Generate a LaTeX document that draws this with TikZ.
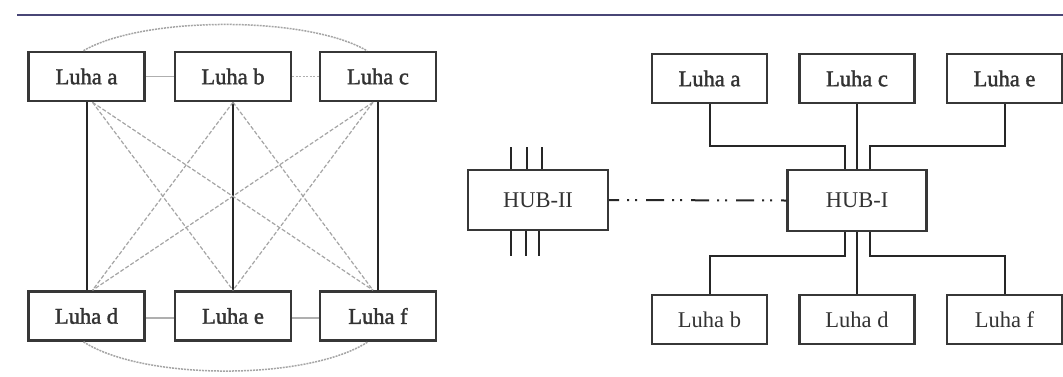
\documentclass[tikz,border=0pt]{standalone}
\usepackage{fontspec}
\setmainfont{Liberation Serif}
\newfontfamily\heavyfont[FakeBold=1.6]{Liberation Serif}
\definecolor{rule}{RGB}{72,70,118}
\definecolor{boxline}{RGB}{55,55,55}
\definecolor{lightl}{RGB}{175,175,175}
\definecolor{dashl}{RGB}{165,165,165}
\begin{document}
\begin{tikzpicture}[x=1pt,y=-1pt,
  lbox/.style={draw=boxline,line width=2.6pt,fill=white,minimum width=116pt,minimum height=49pt,inner sep=0pt,font=\heavyfont\fontsize{22.5pt}{26pt}\selectfont,text=black!80},
  rbox/.style={draw=boxline,line width=2.2pt,fill=white,minimum width=115pt,minimum height=49pt,inner sep=0pt,font=\fontsize{22.5pt}{26pt}\selectfont,text=black!80},
  rtbox/.style={rbox,font=\heavyfont\fontsize{22.5pt}{26pt}\selectfont},
  hbox/.style={draw=boxline,line width=2.2pt,fill=white,minimum width=139pt,minimum height=61pt,inner sep=0pt,font=\fontsize{22.5pt}{26pt}\selectfont,text=black!80},
  solidc/.style={draw=black!85,line width=2pt},
  graysolid/.style={draw=lightl,line width=1.2pt},
  graydot/.style={draw=lightl,line width=1.4pt,dash pattern=on 2pt off 1.5pt},
  diag/.style={draw=dashl,line width=1.2pt,dash pattern=on 4pt off 2pt},
  arcline/.style={draw=dashl,line width=1.5pt,dash pattern=on 2pt off 1pt},
  rline/.style={draw=black!85,line width=2pt},
  stub/.style={draw=black!85,line width=2.2pt},
  dashdot/.style={draw=black!85,line width=2pt,dash pattern=on 18pt off 8pt on 2pt off 6pt on 2pt off 9pt,dash phase=8pt}
]
\useasboundingbox (0,0) rectangle (1063,376);
\fill[white] (0,0) rectangle (1063,376);
% top rule
\draw[rule,line width=2.5pt] (17,15) -- (1063,15);

% ---------- left: full mesh ----------
\node[lbox] (a) at (86.5,76.5) {Luha a};
\node[lbox] (b) at (233,76.5) {Luha b};
\node[lbox] (c) at (378,76.5) {Luha c};
\node[lbox] (d) at (86.5,316) {Luha d};
\node[lbox] (e) at (233,316) {Luha e};
\node[lbox] (f) at (378,316) {Luha f};

\draw[solidc] (a.south) -- (d.north);
\draw[solidc] (b.south) -- (e.north);
\draw[solidc] (c.south) -- (f.north);

\draw[diag] ([xshift=6pt]a.south) -- (e.north);
\draw[diag] ([xshift=6pt]a.south) -- ([xshift=-5pt]f.north);
\draw[diag] (b.south) -- ([xshift=6pt]d.north);
\draw[diag] (b.south) -- ([xshift=-5pt]f.north);
\draw[diag] ([xshift=-5pt]c.south) -- ([xshift=6pt]d.north);
\draw[diag] ([xshift=-5pt]c.south) -- (e.north);

\draw[graysolid] (a.east) -- (b.west);
\draw[graydot] (b.east) -- (c.west);
\draw[graysolid] ([yshift=-2pt]d.east) -- ([yshift=-2pt]e.west);
\draw[graysolid] ([yshift=-2pt]e.east) -- ([yshift=-2pt]f.west);

\draw[arcline] ([xshift=-3pt]a.north) .. controls +(60pt,35pt) and +(-60pt,35pt) .. ([xshift=-11pt]c.north);
\draw[arcline] ([xshift=-3pt]d.south) .. controls +(60pt,-39pt) and +(-60pt,-39pt) .. ([xshift=-10pt]f.south);

% ---------- right: hubs ----------
\node[rtbox] (Ra) at (709.5,78.5) {Luha a};
\node[rtbox] (Rc) at (857,78.5) {Luha c};
\node[rtbox] (Re) at (1004.5,78.5) {Luha e};
\node[rbox] (Rb) at (709.5,319.5) {Luha b};
\node[rbox] (Rd) at (857,319.5) {Luha d};
\node[rbox] (Rf) at (1004.5,319.5) {Luha f};
\node[hbox] (H1) at (857,200.5) {HUB-I};
\node[hbox,minimum width=140pt,minimum height=60pt] (H2) at (538,200) {HUB-II};

\draw[rline] (Ra.south) |- ([xshift=-12.5pt,yshift=23pt]H1.north) -- ([xshift=-12.5pt]H1.north);
\draw[rline] (Rc.south) -- (H1.north);
\draw[rline] (Re.south) |- ([xshift=12.5pt,yshift=23pt]H1.north) -- ([xshift=12.5pt]H1.north);
\draw[rline] ([xshift=-12.5pt]H1.south) -- ([xshift=-12.5pt,yshift=-24pt]H1.south) -| (Rb.north);
\draw[rline] (H1.south) -- (Rd.north);
\draw[rline] ([xshift=12.5pt]H1.south) -- ([xshift=12.5pt,yshift=-24pt]H1.south) -| (Rf.north);

\draw[dashdot] (H2.east) -- (H1.west);

\foreach \dx in {-27,-11,4} \draw[stub] ([xshift=\dx pt]H2.north) -- ++(0pt,22pt);
\foreach \dx in {-27,-12,1} \draw[stub] ([xshift=\dx pt]H2.south) -- ++(0pt,-25pt);
\end{tikzpicture}
\end{document}
